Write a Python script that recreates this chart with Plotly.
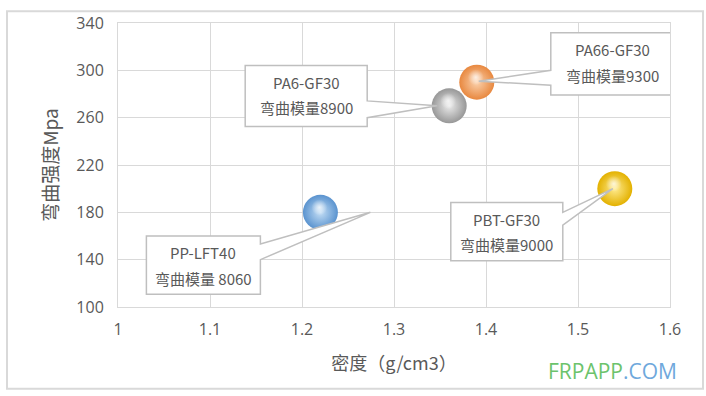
import plotly.graph_objects as go

# ---- data ----
names = ["PP-LFT40", "PA6-GF30", "PA66-GF30", "PBT-GF30"]
density = [1.22, 1.36, 1.39, 1.54]
strength = [180, 270, 290, 200]
modulus_labels = ["弯曲模量 8060", "弯曲模量8900", "弯曲模量9300", "弯曲模量9000"]
x_ticks = [1, 1.1, 1.2, 1.3, 1.4, 1.5, 1.6]
x_tick_text = ["1", "1.1", "1.2", "1.3", "1.4", "1.5", "1.6"]
y_ticks = [100, 140, 180, 220, 260, 300, 340]

# ---- styles ----
edge_colors = ["#5a93cf", "#979797", "#e8883f", "#e3b100"]
center_colors = ["#c4def5", "#ebebeb", "#fbd2ae", "#ffeb8f"]

W, H = 706, 396
PX0, PX1 = 118, 670   # x pixel of x=1 and x=1.6
PY0, PY1 = 19, 307    # y pixel of y=340 and y=100
XMIN, XMAX, YMIN, YMAX = 1.0, 1.6, 100, 340


def to_px(x, y):
    return (PX0 + (x - XMIN) / (XMAX - XMIN) * (PX1 - PX0),
            PY1 - (y - YMIN) / (YMAX - YMIN) * (PY1 - PY0))


def to_data(px, py):
    return (XMIN + (px - PX0) / (PX1 - PX0) * (XMAX - XMIN),
            YMIN + (PY1 - py) / (PY1 - PY0) * (YMAX - YMIN))


def to_paper(px, py):
    return ((px - PX0) / (PX1 - PX0), (PY1 - py) / (PY1 - PY0))


# callout layout (pixel offsets relative to point)
callouts = [
    dict(box=(-174, 24, -60, 83), side="r", w=(32, 48), tip=(50, 0)),
    dict(box=(-204, -41, -82, 21), side="r", w=(-5, 12), tip=(-12, 0)),
    dict(box=(74, -50, 198, 13), side="l", w=(-12, 3), tip=(2, -1)),
    dict(box=(-164, 14, -52, 73), side="r", w=(24, 37), tip=(-2, 0)),
]

fig = go.Figure()

# spheres
fig.add_trace(go.Scatter(
    x=density, y=strength, mode="markers",
    marker=dict(size=35, color=edge_colors,
                gradient=dict(type="radial", color=center_colors),
                line=dict(width=0)),
    hoverinfo="skip", showlegend=False))

# highlights
hx, hy = [], []
for x, y in zip(density, strength):
    px, py = to_px(x, y)
    dx, dy = to_data(px - 1, py - 5)
    hx.append(dx)
    hy.append(dy)
fig.add_trace(go.Scatter(
    x=hx, y=hy, mode="markers",
    marker=dict(size=16, color="rgba(255,255,255,0)",
                gradient=dict(type="radial", color="rgba(255,255,255,0.75)"),
                line=dict(width=0)),
    hoverinfo="skip", showlegend=False))

shapes = []
annotations = []
for x, y, nm, ml, c in zip(density, strength, names, modulus_labels, callouts):
    px, py = to_px(x, y)
    l, t, r, b = (px + c["box"][0], py + c["box"][1], px + c["box"][2], py + c["box"][3])
    w1, w2 = py + c["w"][0], py + c["w"][1]
    tx, ty = px + c["tip"][0], py + c["tip"][1]
    if c["side"] == "r":
        pts = [(l, t), (r, t), (r, w1), (tx, ty), (r, w2), (r, b), (l, b)]
    else:
        pts = [(l, t), (r, t), (r, b), (l, b), (l, w2), (tx, ty), (l, w1)]
    dpts = [to_data(*p) for p in pts]
    path = "M " + " L ".join(f"{a:.5f},{bb:.5f}" for a, bb in dpts) + " Z"
    shapes.append(dict(type="path", path=path, xref="x", yref="y",
                       fillcolor="white", line=dict(color="#bfbfbf", width=1.5),
                       layer="above"))
    cx = (l + r) / 2
    for txt, off in ((nm, 17), (ml, 43)):
        ax_, ay_ = to_data(cx, t + off)
        annotations.append(dict(x=ax_, y=ay_, xref="x", yref="y", text=txt,
                                showarrow=False, xanchor="center", yanchor="middle",
                                font=dict(family="Noto Sans CJK SC, Open Sans", size=15,
                                          color="#595959")))

# outer border
bx0, by0 = to_paper(7, 390)
bx1, by1 = to_paper(703, 7)
shapes.append(dict(type="rect", xref="paper", yref="paper", x0=bx0, x1=bx1, y0=by0, y1=by1,
                   line=dict(color="#d9d9d9", width=2), fillcolor="rgba(0,0,0,0)",
                   layer="above"))

wx, wy = to_paper(612, 372)
annotations.append(dict(
    xref="paper", yref="paper", x=wx, y=wy,
    text="<span style='color:#6cc36c'>FRPAPP</span><span style='color:#6fa8dc'>.COM</span>",
    showarrow=False, xanchor="center", yanchor="middle",
    font=dict(family="Open Sans", size=21)))

fig.update_layout(
    width=W, height=H,
    margin=dict(l=PX0, r=W - PX1, t=PY0, b=H - PY1),
    paper_bgcolor="white", plot_bgcolor="white",
    shapes=shapes, annotations=annotations,
    font=dict(family="Noto Sans CJK SC, Open Sans", color="#595959"),
)
fig.update_xaxes(range=[XMIN, XMAX], tickvals=x_ticks, ticktext=x_tick_text,
                 showgrid=True, gridcolor="#d9d9d9", gridwidth=1,
                 showline=True, linecolor="#d9d9d9", mirror=True, zeroline=False,
                 ticks="", ticklabelstandoff=8,
                 tickfont=dict(family="Open Sans", size=16, color="#595959"),
                 title=dict(text="密度（g/cm3）", standoff=18,
                            font=dict(family="Noto Sans CJK SC", size=18, color="#595959")))
fig.update_yaxes(range=[YMIN, YMAX], tickvals=y_ticks,
                 showgrid=True, gridcolor="#d9d9d9", gridwidth=1,
                 showline=True, linecolor="#d9d9d9", mirror=True, zeroline=False,
                 ticks="", ticklabelstandoff=10,
                 tickfont=dict(family="Open Sans", size=16, color="#595959"),
                 title=dict(text="弯曲强度Mpa", standoff=12,
                            font=dict(family="Noto Sans CJK SC", size=19, color="#595959")))

fig.write_html("out.html", config={"displayModeBar": False},
               post_script="document.body.style.margin='0';document.body.style.overflow='hidden';")
